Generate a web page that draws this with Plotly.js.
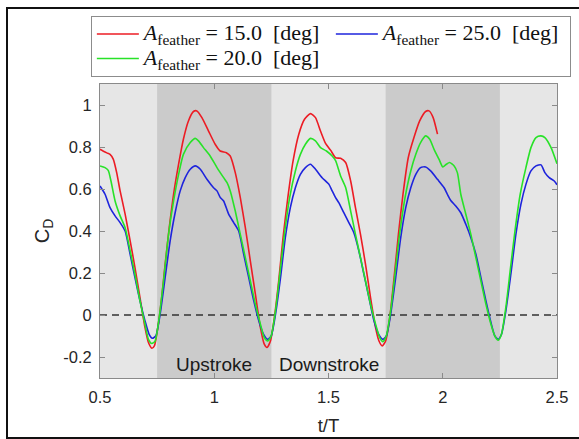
<!DOCTYPE html>
<html>
<head>
<meta charset="utf-8">
<script src="https://cdn.plot.ly/plotly-3.0.1.min.js"></script>
<style>
  html, body { margin: 0; padding: 0; background: #ffffff; }
  #wrap { position: relative; width: 579px; height: 439px; overflow: hidden; }
  #chart { position: absolute; left: 0; top: 0; width: 579px; height: 439px; }
  #frame { position: absolute; left: 6px; top: 7px; width: 600px; height: 428px;
           border-left: 2px solid #111; border-top: 2px solid #111; border-bottom: 2px solid #111;
           pointer-events: none; }
</style>
</head>
<body>
<div id="wrap">
  <div id="chart"></div>
  <div id="frame"></div>
</div>
<script>
// ---- data ----
const seriesNames = ['15.0', '25.0', '20.0'];

const tRed = [0.500,0.515,0.530,0.544,0.558,0.573,0.588,0.610,0.632,0.653,0.675,0.697,0.712,0.727,0.738,0.753,0.770,0.785,0.803,0.822,0.844,0.865,0.887,0.909,0.924,0.946,0.975,1.004,1.026,1.053,1.070,1.092,1.114,1.136,1.158,1.180,1.202,1.219,1.231,1.246,1.263,1.282,1.301,1.322,1.345,1.370,1.395,1.421,1.443,1.465,1.487,1.509,1.531,1.553,1.575,1.597,1.618,1.640,1.662,1.684,1.706,1.721,1.735,1.750,1.768,1.787,1.806,1.826,1.849,1.874,1.899,1.925,1.940,1.958,1.977];
const cdRed = [0.789,0.780,0.772,0.765,0.742,0.678,0.591,0.480,0.353,0.226,0.083,-0.060,-0.131,-0.158,-0.147,-0.060,0.083,0.241,0.416,0.575,0.718,0.837,0.924,0.969,0.972,0.940,0.876,0.813,0.781,0.773,0.757,0.678,0.559,0.416,0.257,0.099,-0.060,-0.139,-0.155,-0.124,-0.013,0.162,0.368,0.559,0.734,0.861,0.932,0.959,0.940,0.876,0.817,0.785,0.749,0.746,0.726,0.638,0.511,0.384,0.241,0.083,-0.060,-0.124,-0.147,-0.124,-0.013,0.178,0.384,0.575,0.749,0.845,0.924,0.969,0.972,0.940,0.861];

const tGreen = [0.500,0.522,0.536,0.548,0.566,0.588,0.610,0.632,0.653,0.675,0.697,0.712,0.727,0.741,0.759,0.778,0.800,0.822,0.844,0.865,0.895,0.917,0.931,0.953,0.982,1.012,1.041,1.056,1.070,1.092,1.114,1.136,1.158,1.180,1.202,1.219,1.234,1.249,1.268,1.287,1.307,1.330,1.355,1.377,1.399,1.421,1.443,1.465,1.491,1.516,1.531,1.553,1.575,1.597,1.618,1.640,1.662,1.684,1.706,1.724,1.738,1.753,1.772,1.791,1.811,1.835,1.860,1.882,1.903,1.925,1.943,1.962,1.984,2.000,2.016,2.030,2.050,2.064,2.079,2.101,2.123,2.145,2.167,2.189,2.211,2.228,2.243,2.257,2.276,2.295,2.316,2.339,2.364,2.386,2.408,2.430,2.447,2.474,2.500];
const cdGreen = [0.710,0.702,0.689,0.638,0.543,0.472,0.416,0.305,0.194,0.067,-0.044,-0.116,-0.136,-0.124,-0.013,0.162,0.384,0.543,0.670,0.765,0.821,0.841,0.829,0.797,0.757,0.702,0.654,0.630,0.591,0.495,0.384,0.273,0.162,0.051,-0.044,-0.108,-0.124,-0.100,0.019,0.194,0.384,0.559,0.686,0.765,0.813,0.841,0.829,0.797,0.781,0.757,0.735,0.662,0.607,0.495,0.384,0.273,0.162,0.051,-0.044,-0.108,-0.127,-0.100,0.019,0.194,0.384,0.559,0.686,0.765,0.821,0.853,0.837,0.789,0.741,0.705,0.718,0.726,0.710,0.678,0.575,0.480,0.384,0.273,0.162,0.051,-0.044,-0.100,-0.120,-0.092,0.035,0.210,0.400,0.575,0.702,0.797,0.845,0.853,0.845,0.797,0.720];

const tBlue = [0.500,0.522,0.544,0.566,0.588,0.610,0.632,0.653,0.675,0.697,0.715,0.729,0.744,0.763,0.785,0.807,0.829,0.851,0.873,0.895,0.917,0.939,0.968,0.997,1.012,1.026,1.041,1.063,1.085,1.107,1.129,1.151,1.173,1.195,1.216,1.234,1.249,1.268,1.290,1.311,1.333,1.355,1.377,1.399,1.421,1.443,1.472,1.502,1.516,1.531,1.545,1.567,1.589,1.611,1.633,1.655,1.677,1.699,1.721,1.738,1.753,1.772,1.794,1.816,1.838,1.860,1.882,1.903,1.925,1.947,1.977,2.006,2.020,2.035,2.057,2.079,2.101,2.123,2.145,2.167,2.189,2.211,2.228,2.243,2.257,2.276,2.298,2.320,2.342,2.364,2.386,2.408,2.430,2.447,2.466,2.488,2.500];
const cdBlue = [0.614,0.575,0.511,0.472,0.440,0.400,0.289,0.178,0.067,-0.028,-0.092,-0.111,-0.100,0.003,0.178,0.353,0.488,0.591,0.654,0.694,0.710,0.694,0.646,0.606,0.591,0.560,0.543,0.480,0.440,0.400,0.289,0.178,0.067,-0.028,-0.092,-0.116,-0.100,0.003,0.178,0.368,0.511,0.606,0.670,0.702,0.718,0.694,0.654,0.622,0.591,0.559,0.535,0.487,0.440,0.392,0.305,0.194,0.083,-0.028,-0.095,-0.116,-0.100,0.003,0.178,0.368,0.511,0.606,0.670,0.702,0.705,0.686,0.646,0.606,0.575,0.545,0.519,0.487,0.432,0.368,0.289,0.178,0.067,-0.036,-0.100,-0.116,-0.092,0.019,0.194,0.384,0.527,0.622,0.686,0.710,0.715,0.678,0.654,0.638,0.620];

// stroke phases (darker shading) and labels
const upStart = [0.75, 1.75];
const upEnd = [1.25, 2.25];
const phaseLabels = ['Upstroke', 'Downstroke'];
const phaseLabelX = [1.0, 1.5];
const phaseLabelY = -0.237;

const xTickVals = [0.5, 1, 1.5, 2, 2.5];
const xTickText = ['0.5', '1', '1.5', '2', '2.5'];
const yTickVals = [-0.2, 0, 0.2, 0.4, 0.6, 0.8, 1];
const yTickText = ['-0.2', '0', '0.2', '0.4', '0.6', '0.8', '1'];

function legendName(v) {
  return '<span style="font-size:22px"><i>A</i><sub>feather</sub> = ' + v + '\u00a0\u00a0[deg]</span>';
}

const traces = [
  {x: tRed, y: cdRed, name: legendName(seriesNames[0]), line: {color: 'rgb(236,28,36)'}},
  {x: tBlue, y: cdBlue, name: legendName(seriesNames[1]), line: {color: 'rgb(30,36,220)'}},
  {x: tGreen, y: cdGreen, name: legendName(seriesNames[2]), line: {color: 'rgb(40,226,40)'}}
].map(t => Object.assign({type: 'scatter', mode: 'lines'}, t, {
  line: Object.assign({width: 1.6, shape: 'spline', smoothing: 0.6}, t.line)
}));

const shapes = [];
for (let i = 0; i < upStart.length; i++) {
  shapes.push({type: 'rect', layer: 'below', xref: 'x', yref: 'paper',
    x0: upStart[i], x1: upEnd[i], y0: 0, y1: 1,
    fillcolor: '#cbcbcb', line: {width: 0}});
}
shapes.push({type: 'line', layer: 'below', xref: 'paper', yref: 'y',
  x0: 0, x1: 1, y0: 0, y1: 0, line: {color: '#333333', width: 1.3, dash: '7px,5px'}});

const annotations = phaseLabels.map((txt, i) => ({
  text: txt, x: phaseLabelX[i], y: phaseLabelY, xref: 'x', yref: 'y',
  showarrow: false, xanchor: 'center', yanchor: 'middle',
  font: {family: 'Liberation Sans, Arial, sans-serif', size: 19, color: '#1a1a1a'}
}));

const axisCommon = {
  showline: true, linecolor: '#8a8a8a', linewidth: 1, mirror: 'ticks',
  ticks: 'inside', ticklen: 5, tickwidth: 1, tickcolor: '#8a8a8a',
  showgrid: false, zeroline: false,
  tickfont: {family: 'Liberation Sans, Arial, sans-serif', size: 16.5, color: '#262626'}
};

const layout = {
  width: 579, height: 439,
  margin: {l: 100, r: 22, t: 84, b: 61},
  paper_bgcolor: '#ffffff',
  plot_bgcolor: '#e6e6e6',
  showlegend: true,
  legend: {
    orientation: 'h', x: -0.02, xanchor: 'left', y: 1.232, yanchor: 'top',
    bgcolor: '#ffffff', bordercolor: '#8c8c8c', borderwidth: 1,
    itemwidth: 42, entrywidth: 182, entrywidthmode: 'pixels',
    traceorder: 'normal',
    font: {family: 'Liberation Serif, Times New Roman, serif', size: 16.5, color: '#111111'}
  },
  xaxis: Object.assign({}, axisCommon, {
    range: [0.5, 2.5], tickmode: 'array', tickvals: xTickVals, ticktext: xTickText,
    ticklabelstandoff: 4,
    title: {text: 't/T', standoff: 14, font: {family: 'Liberation Sans, Arial, sans-serif', size: 18.5, color: '#262626'}}
  }),
  yaxis: Object.assign({}, axisCommon, {
    range: [-0.3, 1.1], tickmode: 'array', tickvals: yTickVals, ticktext: yTickText,
    ticklabelstandoff: 4,
    title: {text: 'C<sub>D</sub>', standoff: 8, font: {family: 'Liberation Sans, Arial, sans-serif', size: 20, color: '#262626'}}
  }),
  shapes: shapes,
  annotations: annotations
};

Plotly.newPlot('chart', traces, layout, {displayModeBar: false, staticPlot: true});
</script>
</body>
</html>
